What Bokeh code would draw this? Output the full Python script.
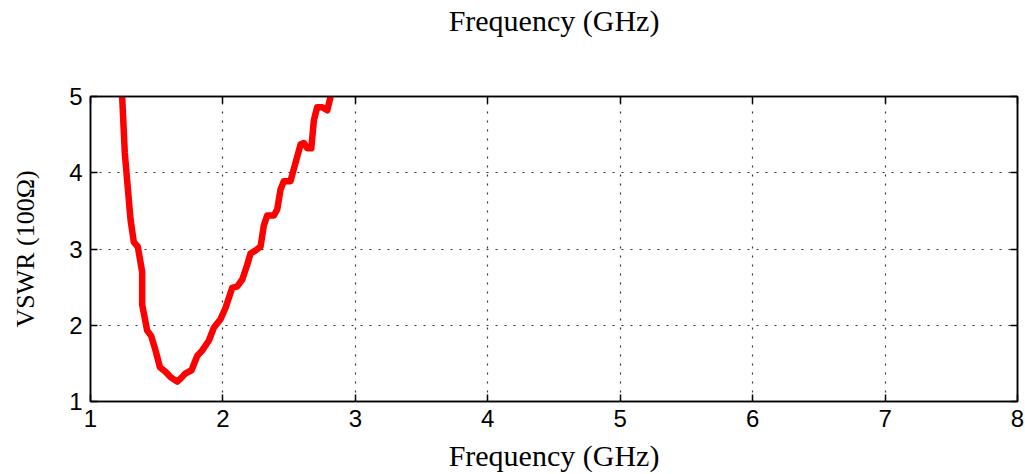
from bokeh.plotting import figure
from bokeh.models import LinearAxis, FixedTicker, CustomJSTickFormatter
from bokeh.embed import file_html
from bokeh.resources import INLINE

# Measured VSWR (100 ohm reference) versus frequency
freq_ghz = [1.239, 1.259, 1.302, 1.327, 1.357, 1.390, 1.390, 1.428, 1.458, 1.491,
            1.524, 1.566, 1.604, 1.655, 1.680, 1.718, 1.763, 1.806, 1.844, 1.894,
            1.932, 1.982, 2.020, 2.070, 2.108, 2.146, 2.183, 2.208, 2.246, 2.284,
            2.309, 2.334, 2.385, 2.410, 2.435, 2.460, 2.510, 2.548, 2.586, 2.611,
            2.637, 2.667, 2.687, 2.712, 2.750, 2.788, 2.813]
vswr = [5.00, 4.26, 3.39, 3.09, 3.03, 2.70, 2.27, 1.93, 1.86, 1.67,
        1.45, 1.39, 1.32, 1.26, 1.30, 1.37, 1.41, 1.60, 1.67, 1.80,
        1.97, 2.08, 2.23, 2.49, 2.51, 2.60, 2.79, 2.94, 2.98, 3.03,
        3.31, 3.44, 3.44, 3.52, 3.78, 3.89, 3.89, 4.13, 4.37, 4.39,
        4.32, 4.32, 4.69, 4.86, 4.86, 4.82, 5.00]

x_ticks = [1, 2, 3, 4, 5, 6, 7, 8]
y_ticks = [1, 2, 3, 4, 5]
x_label = "Frequency (GHz)"
y_label = "VSWR (100\u03a9)"

SERIF = "Liberation Serif"
SANS = "Liberation Sans"

p = figure(width=1025, height=474, x_range=(1, 8), y_range=(1, 5),
           output_backend="svg", toolbar_location=None,
           min_border_left=90, min_border_right=8,
           min_border_top=96, min_border_bottom=69)
p.background_fill_color = "white"
p.border_fill_color = "white"
p.outline_line_color = "black"
p.outline_line_width = 1.5

# Dotted grid at the major ticks
for g in (p.xgrid, p.ygrid):
    g.grid_line_color = "#333333"
    g.grid_line_dash = "2 7"
    g.grid_line_width = 1.2
p.xgrid.ticker = FixedTicker(ticks=x_ticks)
p.ygrid.ticker = FixedTicker(ticks=y_ticks)

def style_axis(ax, ticks, show_labels):
    ax.ticker = FixedTicker(ticks=ticks)
    ax.axis_line_color = "black"
    ax.axis_line_width = 1.5
    ax.major_tick_in = 7
    ax.major_tick_out = 0
    ax.major_tick_line_color = "black"
    ax.major_tick_line_width = 1.5
    ax.minor_tick_line_color = None
    if show_labels:
        ax.major_label_text_font = SANS
        ax.major_label_text_font_size = "24px"
        ax.major_label_text_color = "black"
        ax.major_label_standoff = 8
    else:
        # tick marks only on the opposite sides of the frame
        ax.formatter = CustomJSTickFormatter(code="return ''")
        ax.major_label_standoff = 0

def style_label(ax, text, size, standoff):
    ax.axis_label = text
    ax.axis_label_text_font = SERIF
    ax.axis_label_text_font_size = size
    ax.axis_label_text_font_style = "normal"
    ax.axis_label_text_color = "black"
    ax.axis_label_standoff = standoff

style_axis(p.xaxis[0], x_ticks, True)
style_axis(p.yaxis[0], y_ticks, True)
style_label(p.xaxis[0], x_label, "30px", 9)
style_label(p.yaxis[0], y_label, "26px", 26)

top_axis = LinearAxis()
right_axis = LinearAxis()
style_axis(top_axis, x_ticks, False)
style_axis(right_axis, y_ticks, False)
# the frequency label is repeated over the top edge
style_label(top_axis, x_label, "30px", 60)
p.add_layout(top_axis, "above")
p.add_layout(right_axis, "right")

p.line(freq_ghz, vswr, line_color="#ff0000", line_width=6.5, line_join="round")

open("out.html", "w").write(file_html(p, INLINE))
